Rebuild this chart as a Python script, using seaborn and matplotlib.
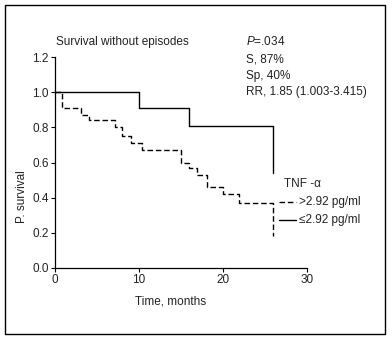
import matplotlib
matplotlib.use("Agg")
import matplotlib.pyplot as plt
from matplotlib.lines import Line2D
from matplotlib.patches import Rectangle
import seaborn as sns
import pandas as pd

# ---- data ----
high_time = [0, 0.8, 3.1, 4.1, 7.1, 8.0, 9.1, 10.4, 15.0, 16.0, 16.9, 18.1, 20.0, 21.9, 25.9]
high_surv = [1.0, 0.91, 0.87, 0.84, 0.80, 0.75, 0.71, 0.67, 0.60, 0.57, 0.53, 0.46, 0.42, 0.37, 0.18]
low_time = [0, 10, 16, 26]
low_surv = [1.0, 0.91, 0.81, 0.54]
group_labels = [">2.92 pg/ml", "\u22642.92 pg/ml"]
xticks = [0, 10, 20, 30]
yticks = [0.0, 0.2, 0.4, 0.6, 0.8, 1.0, 1.2]
stats_lines = ["$\\it{P}$=.034", "S, 87%", "Sp, 40%", "RR, 1.85 (1.003-3.415)"]

df = pd.concat([
    pd.DataFrame({"time": high_time, "surv": high_surv, "group": group_labels[0]}),
    pd.DataFrame({"time": low_time, "surv": low_surv, "group": group_labels[1]}),
], ignore_index=True)

sns.set_style("ticks")
plt.rcParams["font.family"] = ["Liberation Sans", "DejaVu Sans"]
plt.rcParams["mathtext.fontset"] = "custom"
plt.rcParams["mathtext.it"] = "Liberation Sans:italic"
plt.rcParams["mathtext.rm"] = "Liberation Sans"

W, H = 392, 341
fig = plt.figure(figsize=(W / 100, H / 100), dpi=100)
def fx(px): return px / W
def fy(py): return 1 - py / H

ax = fig.add_axes([fx(55), fy(268), fx(307) - fx(55), fy(57) - fy(268)])
txtc = "#222222"
fs = 8.5

sns.lineplot(data=df, x="time", y="surv", style="group",
             dashes={group_labels[0]: (4, 2), group_labels[1]: ""},
             color="black", linewidth=1.0, drawstyle="steps-post",
             estimator=None, sort=False, legend=False, ax=ax)

ax.set_xlim(0, 30)
ax.set_ylim(0, 1.2)
ax.set_xticks(xticks)
ax.set_yticks(yticks)
ax.set_yticklabels([f"{v:.1f}" for v in yticks])
ax.tick_params(axis="both", length=3, width=0.8, pad=1.5, labelsize=fs, colors="black", labelcolor=txtc)
for s in ["left", "bottom"]:
    ax.spines[s].set_linewidth(0.9)
    ax.spines[s].set_color("black")
sns.despine(ax=ax)
ax.set_xlabel("")
ax.set_ylabel("")

# labels
fig.text(fx(135), fy(304), "Time, months", fontsize=fs, color=txtc, ha="left", va="baseline")
fig.text(fx(22), fy(196.5), "P. survival", fontsize=fs, color=txtc, rotation=90, ha="center", va="center")
fig.text(fx(56), fy(45), "Survival without episodes", fontsize=fs, color=txtc, ha="left", va="baseline")

for line, base in zip(stats_lines, [45, 62.5, 79, 94.5]):
    fig.text(fx(246), fy(base), line, fontsize=fs, color=txtc, ha="left", va="baseline")

# legend
fig.text(fx(284), fy(187.5), "TNF -\u03b1", fontsize=fs, color=txtc, ha="left", va="baseline")
fig.add_artist(Line2D([fx(279), fx(296)], [fy(201.7)] * 2, transform=fig.transFigure,
                      color="black", linewidth=1.0, dashes=(4, 2)))
fig.add_artist(Line2D([fx(279), fx(296)], [fy(220)] * 2, transform=fig.transFigure,
                      color="black", linewidth=1.0))
fig.text(fx(299), fy(205), group_labels[0], fontsize=fs, color=txtc, ha="left", va="baseline")
fig.text(fx(299), fy(223.5), group_labels[1], fontsize=fs, color=txtc, ha="left", va="baseline")

# outer frame
fig.add_artist(Rectangle((fx(4.5), fy(334)), fx(385) - fx(4.5), fy(5) - fy(334),
                         transform=fig.transFigure, fill=False, edgecolor="black", linewidth=1.0))

fig.savefig("out.png", dpi=100)
